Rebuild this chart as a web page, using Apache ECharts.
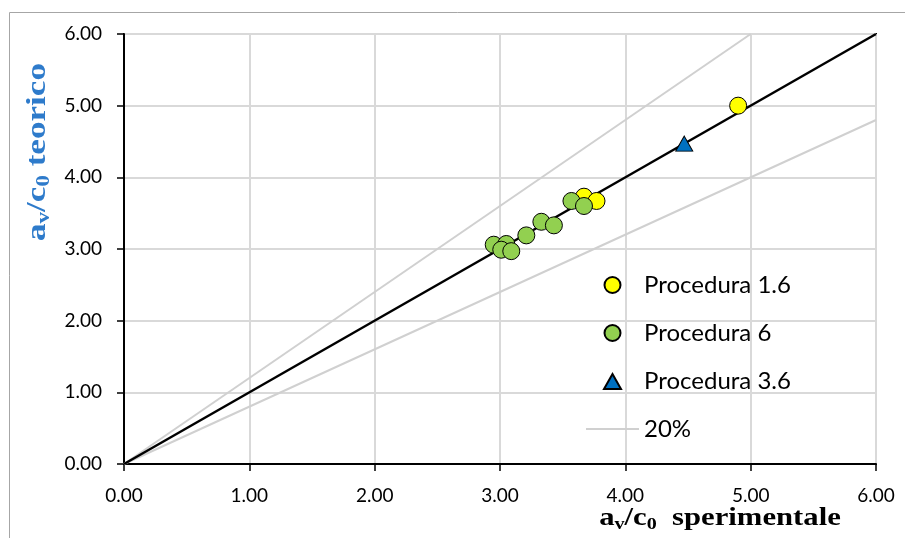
<!DOCTYPE html>
<html>
<head>
<meta charset="utf-8">
<script src="https://cdn.jsdelivr.net/npm/echarts@6/dist/echarts.min.js"></script>
<style>html,body{margin:0;padding:0;background:#fff}#c{width:905px;height:538px}</style>
</head>
<body>
<div id="c"></div>
<script>
// Data
const tickLabels = ['0.00','1.00','2.00','3.00','4.00','5.00','6.00'];
const legendNames = ['Procedura 1.6','Procedura 6','Procedura 3.6','20%'];
const proc16 = [[3.67,3.73],[3.77,3.67],[4.90,5.00]];
const proc6 = [[2.95,3.06],[3.05,3.07],[3.01,2.99],[3.09,2.97],[3.21,3.19],[3.33,3.38],[3.43,3.33],[3.57,3.67],[3.67,3.60]];
const proc36 = [[4.47,4.47]];
const lineEqual = [[0,0],[6,6]];
const lineUpper = [[0,0],[5,6]];
const lineLower = [[0,0],[6,4.8]];

const chart = echarts.init(document.getElementById('c'), null, {renderer:'canvas'});
const tickFont = {fontFamily:'Lato', fontSize:19, color:'#000'};
const titleRich = (color) => ({
  a:{fontFamily:'Liberation Serif', fontWeight:'bold', fontSize:26, fill:color, lineHeight:30, verticalAlign:'middle'},
  s:{fontFamily:'Liberation Serif', fontWeight:'bold', fontSize:17, fill:color, lineHeight:8, verticalAlign:'bottom'}
});
const triIcon = 'path://M0,0M53,16M18,16L26.5,1L35,16Z';
const lineIcon = 'path://M0,0h53v2h-53z';
chart.setOption({
  animation:false,
  backgroundColor:'#fff',
  grid:{left:124, right:29, top:34, bottom:74, show:true, borderColor:'#000', borderWidth:2, backgroundColor:'transparent'},
  xAxis:{type:'value', min:0, max:6, interval:1,
    axisLine:{show:true, lineStyle:{color:'#000', width:2}},
    axisTick:{show:true, length:7, lineStyle:{color:'#000', width:1.5}},
    axisLabel:Object.assign({margin:22, formatter:(v)=>tickLabels[Math.round(v)]}, tickFont),
    splitLine:{show:true, lineStyle:{color:'#D9D9D9', width:2}}},
  yAxis:{type:'value', min:0, max:6, interval:1,
    axisLine:{show:true, lineStyle:{color:'#000', width:2}},
    axisTick:{show:true, length:7, lineStyle:{color:'#000', width:1.5}},
    axisLabel:Object.assign({margin:22, formatter:(v)=>tickLabels[Math.round(v)]}, tickFont),
    splitLine:{show:true, lineStyle:{color:'#D9D9D9', width:2}}},
  legend:{orient:'vertical', left:585, top:273, padding:0, itemWidth:53, itemHeight:16, itemGap:24, symbolKeepAspect:true,
    textStyle:{fontFamily:'Lato', fontSize:24, color:'#000', lineHeight:24},
    data:[{name:legendNames[0], icon:'circle'},{name:legendNames[1], icon:'circle'},{name:legendNames[2], icon:triIcon},
          {name:legendNames[3], icon:lineIcon, itemStyle:{color:'#D0D0D0', borderWidth:0}}]},
  series:[
    {name:legendNames[3], type:'line', data:lineUpper, symbol:'none', lineStyle:{color:'#D0D0D0', width:2}, itemStyle:{color:'#D0D0D0'}, z:2, silent:true},
    {name:legendNames[3], type:'line', data:lineLower, symbol:'none', lineStyle:{color:'#D0D0D0', width:2}, itemStyle:{color:'#D0D0D0'}, z:2, silent:true},
    {name:'1:1', type:'line', data:lineEqual, symbol:'none', lineStyle:{color:'#000', width:2.5}, z:3, silent:true},
    {name:legendNames[0], type:'scatter', data:proc16, symbol:'circle', symbolSize:17, itemStyle:{color:'#FFFF00', borderColor:'#000', borderWidth:1, opacity:1}, z:4},
    {name:legendNames[1], type:'scatter', data:proc6, symbol:'circle', symbolSize:17, itemStyle:{color:'#92D050', borderColor:'#000', borderWidth:1, opacity:1}, z:5},
    {name:legendNames[2], type:'scatter', data:proc36, symbol:'triangle', symbolSize:[17,15], itemStyle:{color:'#0070C0', borderColor:'#000', borderWidth:1, opacity:1}, z:6}
  ],
  graphic:[
    {type:'rect', shape:{x:9.5, y:12.5, width:900, height:530}, style:{fill:'none', stroke:'#A6A6A6', lineWidth:1}, z:-10, silent:true},
    {type:'text', x:720, y:518, scaleX:1.18, style:{text:'{a|a}{s|v}{a|/c}{s|0}{a|  sperimentale}', rich:titleRich('#000'), align:'center', verticalAlign:'middle'}},
    {type:'text', x:38, y:152, rotation:Math.PI/2, scaleX:1.35, scaleY:1.05, style:{text:'{a|a}{s|v}{a|/c}{s|0}{a| teorico}', rich:titleRich('#2E7BCB'), align:'center', verticalAlign:'middle'}}
  ]
});
</script>
</body>
</html>
